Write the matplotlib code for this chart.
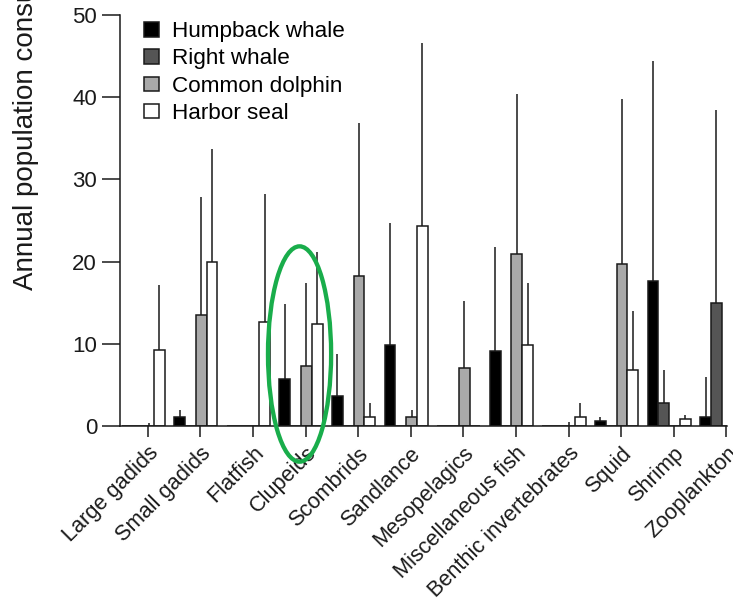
import matplotlib
matplotlib.use("Agg")
import matplotlib.pyplot as plt
import matplotlib.transforms as mtransforms
from matplotlib.patches import Ellipse
import numpy as np

plt.rcParams['font.family'] = ['Liberation Sans', 'DejaVu Sans']

# prey groups along the x axis
categories = ["Large gadids", "Small gadids", "Flatfish", "Clupeids", "Scombrids",
              "Sandlance", "Mesopelagics", "Miscellaneous fish",
              "Benthic invertebrates", "Squid", "Shrimp", "Zooplankton"]

# mean consumption and upper limit of the error bar, per predator
humpback = [0, 1.1, 0, 5.7, 3.6, 9.9, 0, 9.1, 0, 0.6, 17.7, 1.1]
humpback_hi = [0, 1.9, 0, 14.8, 8.8, 24.7, 0, 21.8, 0, 1.1, 44.4, 6.0]
right_whale = [0, 0, 0, 0, 0, 0, 0, 0, 0, 0, 2.8, 15.0]
right_whale_hi = [0, 0, 0, 0, 0, 0, 0, 0, 0, 0, 6.8, 38.5]
dolphin = [0, 13.5, 0, 7.3, 18.2, 1.1, 7.0, 20.9, 0, 19.7, 0, 0]
dolphin_hi = [0.4, 27.9, 0, 17.4, 36.9, 1.95, 15.2, 40.4, 0.5, 39.8, 0, 0]
seal = [9.3, 19.9, 12.6, 12.4, 1.1, 24.3, 0, 9.9, 1.1, 6.8, 0.8, 0]
seal_hi = [17.2, 33.7, 28.2, 21.2, 2.8, 46.6, 0, 17.4, 2.8, 14.0, 1.3, 0]

series = [
    ("Humpback whale", humpback, humpback_hi, "#000000"),
    ("Right whale", right_whale, right_whale_hi, "#555555"),
    ("Common dolphin", dolphin, dolphin_hi, "#a9a9a9"),
    ("Harbor seal", seal, seal_hi, "#ffffff"),
]

fig = plt.figure(figsize=(7.33, 6.06), dpi=100)
ax = fig.add_axes([0.1637, 0.2970, 0.8277, 0.6782])

x = np.arange(len(categories))
width = 0.205
offsets = [-0.395, -0.19, 0.015, 0.22]
edge = "#1a1a1a"

for (name, vals, hi, col), off in zip(series, offsets):
    vals = np.array(vals)
    hi = np.array(hi)
    ax.bar(x + off, vals, width, color=col, edgecolor=edge, linewidth=1.1,
           label=name, zorder=2)
    m = hi > vals
    ax.vlines(x[m] + off, vals[m], hi[m], color=edge, linewidth=1.1, zorder=1)

ax.set_xlim(-0.527, 11.005)
ax.set_ylim(0, 50)
ax.set_yticks([0, 10, 20, 30, 40, 50])
ax.set_xticks(x)
ax.set_xticklabels(categories, rotation=45, ha="right", va="top",
                   rotation_mode="anchor", fontsize=15.7, color="#1a1a1a")
# nudge the slanted labels a little to the left
shift = mtransforms.ScaledTranslation(-0.05, 0, fig.dpi_scale_trans)
for lab in ax.get_xticklabels():
    lab.set_transform(lab.get_transform() + shift)
ax.tick_params(axis="y", length=13, width=1.1, pad=3.5, labelsize=16,
               labelcolor="#1a1a1a", color=edge)
ax.tick_params(axis="x", length=8, width=1.1, pad=4, color=edge)

for s in ["top", "right"]:
    ax.spines[s].set_visible(False)
for s in ["left", "bottom"]:
    ax.spines[s].set_linewidth(1.1)
    ax.spines[s].set_color(edge)

ax.legend(loc="upper left", bbox_to_anchor=(0.0396, 0.985), frameon=False,
          fontsize=16.2, borderpad=0, borderaxespad=0, handlelength=0.65,
          handleheight=0.62, handletextpad=0.6, labelspacing=0.28)

fig.text(0.036, 0.522, "Annual population consumption (1000 t)", rotation=90,
         ha="center", va="bottom", fontsize=20, color="#1a1a1a")

# highlight the Clupeids group
ring = Ellipse((3 - 0.114, 8.76), 1.2, 26.2, transform=ax.transData,
               fill=False, edgecolor="#19ad4b", linewidth=3.1, clip_on=False,
               zorder=5)
ax.add_patch(ring)

fig.savefig("out.png", dpi=100)
